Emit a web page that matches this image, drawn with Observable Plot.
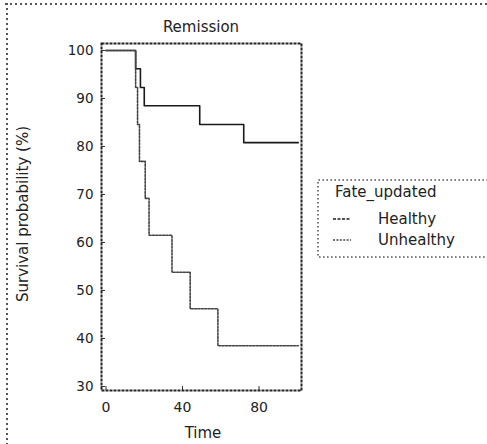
<!DOCTYPE html>
<html><head><meta charset="utf-8">
<script src="https://cdn.jsdelivr.net/npm/d3@7"></script>
<script src="https://cdn.jsdelivr.net/npm/@observablehq/plot@0.6"></script>
<style>
body{margin:0;background:#fff;}
#wrap{position:relative;width:487px;height:444px;overflow:hidden;background:#fff;font-family:"DejaVu Sans",sans-serif;color:#222;}
#wrap svg{position:absolute;left:0;top:0;}
.dotH{position:absolute;left:5px;top:3px;width:482px;height:2px;background:repeating-linear-gradient(to right,#555 0 2px,transparent 2px 5px);}
.dotV{position:absolute;left:6px;top:3px;width:2px;height:441px;background:repeating-linear-gradient(to bottom,#555 0 2px,transparent 2px 5px);}
.lbl{position:absolute;white-space:nowrap;font-size:15px;line-height:16px;color:#222;}
</style></head><body><div id="wrap"><div class="dotH"></div><div class="dotV"></div></div>
<script>
// ---- data ----
const chartTitle = "Remission";
const xLabel = "Time";
const yLabel = "Survival probability (%)";
const legendTitle = "Fate_updated";
const groups = ["Healthy", "Unhealthy"];
const healthyTime = [0, 15.5, 18, 20, 49, 72, 100.5];
const healthySurv = [100, 96.2, 92.3, 88.5, 84.6, 80.8, 80.8];
const unhealthyTime = [0, 15.5, 16.5, 17.5, 20.5, 22.5, 34.5, 44, 58.5, 100.5];
const unhealthySurv = [100, 92.3, 84.6, 76.9, 69.2, 61.5, 53.8, 46.2, 38.5, 38.5];
const xTicks = [0, 40, 80];
const yTicks = [30, 40, 50, 60, 70, 80, 90, 100];

// ---- build ----
const rows = [
  ...healthyTime.map((t, i) => ({group: groups[0], time: t, surv: healthySurv[i]})),
  ...unhealthyTime.map((t, i) => ({group: groups[1], time: t, surv: unhealthySurv[i]}))
];
const styles = {
  Healthy: {stroke: "#1a1a1a", dash: null, width: 1.6},
  Unhealthy: {stroke: "#444", dash: "2,1.4", width: 1.6}
};

const wrap = document.getElementById("wrap");
const chart = Plot.plot({
  width: 487, height: 444,
  marginLeft: 101, marginRight: 186, marginTop: 43, marginBottom: 54,
  style: {fontFamily: "DejaVu Sans, sans-serif", fontSize: "13px", color: "#222", background: "transparent", overflow: "visible"},
  x: {domain: [-2.35, 102.2]},
  y: {domain: [29.17, 101.46]},
  marks: [
    ...groups.map(g => Plot.line(rows.filter(d => d.group === g), {
      x: "time", y: "surv", curve: "step-after",
      stroke: styles[g].stroke, strokeWidth: styles[g].width, strokeDasharray: styles[g].dash
    })),
    Plot.frame({stroke: "#222", strokeWidth: 2, strokeDasharray: "3,1"}),
    Plot.axisX(xTicks, {tickSize: -4, text: null, label: null, stroke: "#333"}),
    Plot.axisX(xTicks, {tickSize: 0, tickPadding: 12, label: null, fontSize: 14}),
    Plot.axisY(yTicks, {tickSize: -4, text: null, label: null, stroke: "#333"}),
    Plot.axisY(yTicks, {tickSize: 0, tickPadding: 8, label: null, fontSize: 13.5})
  ]
});
wrap.appendChild(chart);

function addLabel(text, css) {
  const d = document.createElement("div");
  d.className = "lbl";
  d.textContent = text;
  Object.assign(d.style, css);
  wrap.appendChild(d);
  return d;
}
addLabel(chartTitle, {left: "201px", top: "19px", transform: "translateX(-50%)"});
addLabel(xLabel, {left: "203px", top: "425px", transform: "translateX(-50%)"});
addLabel(yLabel, {left: "23px", top: "214px", transform: "translate(-50%,-50%) rotate(-90deg)"});

// legend
const leg = d3.select(wrap).append("svg")
  .attr("width", 487).attr("height", 444)
  .style("font-family", "DejaVu Sans, sans-serif").style("pointer-events", "none");
leg.append("path").attr("d", "M600,180H318V257H600")
  .attr("fill", "none").attr("stroke", "#555").attr("stroke-width", 1.6).attr("stroke-dasharray", "1.6,2.4");
leg.append("text").attr("x", 335).attr("y", 197).attr("font-size", 15).attr("fill", "#222").text(legendTitle);
groups.forEach((g, i) => {
  const y = 219 + i * 21;
  leg.append("line").attr("x1", 333).attr("x2", 351).attr("y1", y).attr("y2", y)
    .attr("stroke", styles[g].stroke).attr("stroke-width", styles[g].width)
    .attr("stroke-dasharray", styles[g].dash || "3,1.5");
  leg.append("text").attr("x", 378).attr("y", y + 5).attr("font-size", 15).attr("fill", "#222").text(g);
});
</script>
</body></html>
